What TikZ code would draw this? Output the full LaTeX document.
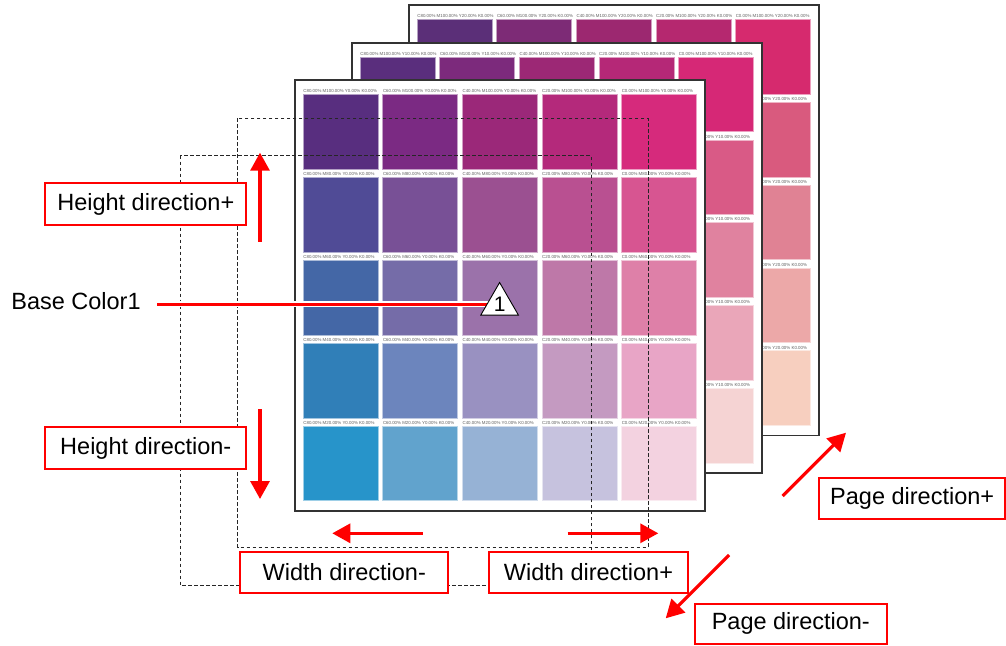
\documentclass[tikz,border=0pt]{standalone}
\usepackage{fontspec}
\setmainfont{Liberation Sans}
\usetikzlibrary{arrows.meta,shapes.geometric}

% front page (Y0)
\definecolor{sw0-0-0}{HTML}{582E7F}\definecolor{sw0-0-1}{HTML}{7B2A83}\definecolor{sw0-0-2}{HTML}{9B2879}\definecolor{sw0-0-3}{HTML}{B4297B}\definecolor{sw0-0-4}{HTML}{D62A7C}
\definecolor{sw0-1-0}{HTML}{504B96}\definecolor{sw0-1-1}{HTML}{785096}\definecolor{sw0-1-2}{HTML}{9B5091}\definecolor{sw0-1-3}{HTML}{B95091}\definecolor{sw0-1-4}{HTML}{D75591}
\definecolor{sw0-2-0}{HTML}{4467A6}\definecolor{sw0-2-1}{HTML}{756CA8}\definecolor{sw0-2-2}{HTML}{9B72AA}\definecolor{sw0-2-3}{HTML}{BE78A8}\definecolor{sw0-2-4}{HTML}{DE80A8}
\definecolor{sw0-3-0}{HTML}{307FB8}\definecolor{sw0-3-1}{HTML}{6C85BD}\definecolor{sw0-3-2}{HTML}{9991C1}\definecolor{sw0-3-3}{HTML}{C49AC1}\definecolor{sw0-3-4}{HTML}{E8A5C6}
\definecolor{sw0-4-0}{HTML}{2794CA}\definecolor{sw0-4-1}{HTML}{61A3CD}\definecolor{sw0-4-2}{HTML}{96B2D5}\definecolor{sw0-4-3}{HTML}{C6C2DE}\definecolor{sw0-4-4}{HTML}{F3D2E0}
% middle page (Y10): first row and last column
\definecolor{sw1-0-0}{HTML}{5A2E7D}\definecolor{sw1-0-1}{HTML}{7C2A7C}\definecolor{sw1-0-2}{HTML}{9C2875}\definecolor{sw1-0-3}{HTML}{B52877}\definecolor{sw1-0-4}{HTML}{D62876}
\definecolor{sw1-1-4}{HTML}{D95A86}\definecolor{sw1-2-4}{HTML}{E0829F}\definecolor{sw1-3-4}{HTML}{EAA6B9}\definecolor{sw1-4-4}{HTML}{F5D3D3}
% back page (Y20): first row and last column
\definecolor{sw2-0-0}{HTML}{5B2F78}\definecolor{sw2-0-1}{HTML}{7D2B76}\definecolor{sw2-0-2}{HTML}{9C2870}\definecolor{sw2-0-3}{HTML}{B5286F}\definecolor{sw2-0-4}{HTML}{D62A6E}
\definecolor{sw2-1-4}{HTML}{D95A7E}\definecolor{sw2-2-4}{HTML}{E08294}\definecolor{sw2-3-4}{HTML}{ECA8A8}\definecolor{sw2-4-4}{HTML}{F7CFBF}
\definecolor{pagered}{HTML}{FF0000}

\begin{document}
\begin{tikzpicture}[x=1pt,y=-1pt,
  pageframe/.style={draw=black!80, line width=1.8pt, fill=white},
  swatchlbl/.style={font=\fontsize{4.4}{5}\selectfont, text=black!62, inner sep=0pt, anchor=base west},
  virtpage/.style={draw=black!85, line width=1pt, dash pattern=on 3.5pt off 2.5pt},
  dirbox/.style={draw=pagered, line width=2.2pt, fill=white, inner sep=0pt,
    font=\fontsize{23.5}{28}\selectfont, text=black},
  dirarrow/.style={draw=pagered, line width=3.2pt, -{Triangle[length=18pt,width=19pt]}},
]
\useasboundingbox[fill=white] (0,0) rectangle (1006,645);

% ---- pages (back to front) ----
\foreach \p/\px/\py/\yv in {2/408.7/5.0/20, 1/351.7/42.6/10, 0/294.7/80.3/0}{
  \draw[pageframe] (\px,\py) rectangle ++(410.5,430.4);
  \foreach \r in {0,...,4}{
    \foreach \c in {0,...,4}{
      \ifnum\p=0 \edef\cn{sw0-\r-\c}\else
        \ifnum\r=0 \edef\cn{sw\p-\r-\c}\else
          \ifnum\c=4 \edef\cn{sw\p-\r-\c}\else \edef\cn{sw0-\r-\c}\fi
        \fi
      \fi
      \pgfmathsetmacro\sx{\px+8.5+79.6*\c}
      \pgfmathsetmacro\sy{\py+14.4+82.85*\r}
      \pgfmathtruncatemacro\cv{80-20*\c}
      \pgfmathtruncatemacro\mv{100-20*\r}
      \fill[fill=\cn, draw=\cn!45!white, line width=0.7pt] (\sx,\sy) rectangle ++(75,74.7);
      \node[swatchlbl] (lbl-\p-\r-\c) at (\sx,\sy-1.8) {C\cv.00\% M\mv.00\% Y\yv.00\% K0.00\%};
    }
  }
}

% ---- virtual pages (dashed) ----
\draw[virtpage] (180.3,155.7) rectangle (591,585.7);
\draw[virtpage] (237.7,118.3) rectangle (648,547.3);

% ---- base colour marker ----
\coordinate (lstart) at (157.3,304.2);
\coordinate (tri) at (499.6,304.2);
\draw[white, line width=6pt] (lstart) -- (tri);
\draw[pagered, line width=3.2pt] (lstart) -- (tri);
\node[regular polygon, regular polygon sides=3, draw=black, fill=white, line width=0.9pt,
  minimum size=43.4pt, inner sep=0pt, font=\fontsize{21}{24}\selectfont] (trimark) at (tri) {1};
\node[font=\fontsize{23.5}{28}\selectfont, inner sep=0pt] (base) at (76,300.8) {Base Color1};

% ---- direction arrows ----
\coordinate (hp0) at (260,241.7);  \coordinate (hp1) at (260,152.7);
\coordinate (hm0) at (260,409);    \coordinate (hm1) at (260,499);
\coordinate (wm0) at (422.7,533.3);\coordinate (wm1) at (332.3,533.3);
\coordinate (wp0) at (567.7,533.3);\coordinate (wp1) at (658.3,533.3);
\coordinate (pp0) at (782.7,496);  \coordinate (pp1) at (846,432.7);
\coordinate (pm0) at (729,555);    \coordinate (pm1) at (665.7,618.3);
\draw[dirarrow] (hp0) -- (hp1);
\draw[dirarrow] (hm0) -- (hm1);
\draw[dirarrow] (wm0) -- (wm1);
\draw[dirarrow] (wp0) -- (wp1);
\draw[dirarrow] (pp0) -- (pp1);
\draw[dirarrow] (pm0) -- (pm1);

% ---- direction labels ----
\node[dirbox, minimum width=201pt, minimum height=41.7pt] (hplus) at (145.8,204.2) {Height direction+};
\node[dirbox, minimum width=201pt, minimum height=42pt] (hminus) at (145.8,448.3) {Height direction-};
\node[dirbox, minimum width=208pt, minimum height=41pt] (wminus) at (344.3,572.2) {Width direction-};
\node[dirbox, minimum width=198.4pt, minimum height=41pt] (wplus) at (588.5,572.2) {Width direction+};
\node[dirbox, minimum width=185.7pt, minimum height=41.3pt] (pplus) at (912.2,498.3) {Page direction+};
\node[dirbox, minimum width=192.3pt, minimum height=40.3pt] (pminus) at (790.8,623.8) {Page direction-};
\end{tikzpicture}
\end{document}
